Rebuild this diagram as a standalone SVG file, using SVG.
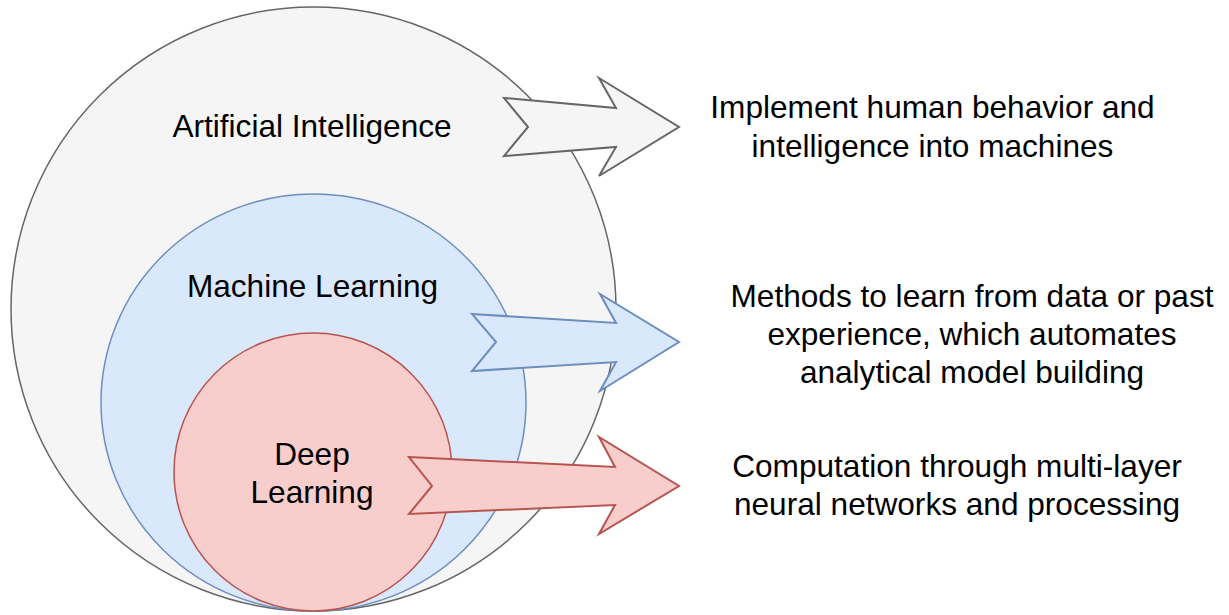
<svg xmlns="http://www.w3.org/2000/svg" width="1229" height="615" viewBox="0 0 1229 615">
  <style>
    .lbl { font-family: "Liberation Sans", Arial, sans-serif; font-size: 31.6px; fill: #000000; text-anchor: middle; }
    .ai { fill: #f5f5f5; stroke: #666666; }
    .ml { fill: #dae8fc; stroke: #6c8ebf; }
    .dl { fill: #f8cecc; stroke: #b85450; }
    .ring { stroke-width: 1.5; }
    .arrow { stroke-width: 2; stroke-linejoin: miter; }
  </style>
  <rect width="1229" height="615" fill="#ffffff"/>

  <!-- nested fields -->
  <g id="artificial-intelligence">
    <ellipse class="ai ring" cx="313.5" cy="309" rx="302.5" ry="302"/>
    <text class="lbl" x="312" y="137">Artificial Intelligence</text>
  </g>
  <g id="machine-learning">
    <ellipse class="ml ring" cx="313.5" cy="402.5" rx="212.5" ry="208.5"/>
    <text class="lbl" x="312.5" y="297">Machine Learning</text>
  </g>
  <g id="deep-learning">
    <circle class="dl ring" cx="313" cy="472" r="139"/>
    <text class="lbl" x="312" y="465">Deep</text>
    <text class="lbl" x="312" y="503">Learning</text>
  </g>

  <!-- connectors: block arrows pointing to descriptions -->
  <g id="connectors">
    <polygon class="ai arrow" points="504,98 616,108 599,78 679,127 599,176 616,147 504,156 528,127"/>
    <polygon class="ml arrow" points="472,314 616,323 600,294 679,342 600,391 616,362 472,371 496,342"/>
    <polygon class="dl arrow" points="409,457 615,467 599,437 679,486 599,534 615,505 409,514 432,486"/>
  </g>

  <!-- descriptions -->
  <g id="desc-ai">
    <text class="lbl" x="932.5" y="118">Implement human behavior and</text>
    <text class="lbl" x="932.5" y="157">intelligence into machines</text>
  </g>
  <g id="desc-ml">
    <text class="lbl" x="972" y="307">Methods to learn from data or past</text>
    <text class="lbl" x="972" y="345">experience, which automates</text>
    <text class="lbl" x="972" y="383">analytical model building</text>
  </g>
  <g id="desc-dl">
    <text class="lbl" x="957" y="477">Computation through multi-layer</text>
    <text class="lbl" x="957" y="515">neural networks and processing</text>
  </g>
</svg>
